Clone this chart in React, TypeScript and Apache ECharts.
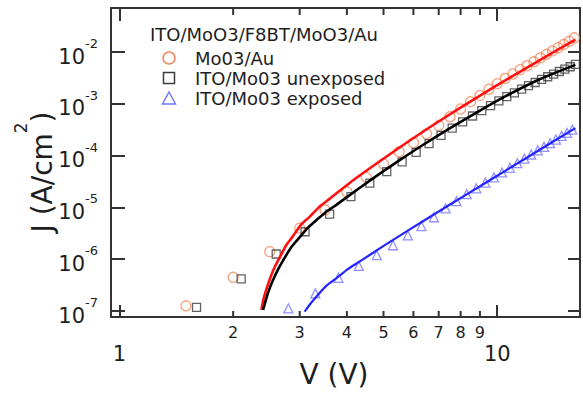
import { useEffect, useRef } from 'react';
import * as echarts from 'echarts';

// Measured points (V, J in A/cm^2)
const circleV = [1.5, 2.0, 2.5, 3.0, 3.5, 4.0, 4.5, 5.0, 5.5, 6.0, 6.5, 7.0, 7.5, 8.0, 8.5, 9.0, 9.5, 10.0, 10.5, 11.0, 11.5, 12.0, 12.5, 13.0, 13.5, 14.0, 14.5, 15.0, 15.5, 16.0];
const circleJ = [1.26e-7, 4.47e-7, 1.40e-6, 3.98e-6, 8.91e-6, 2.00e-5, 3.80e-5, 6.92e-5, 1.19e-4, 1.78e-4, 2.63e-4, 3.80e-4, 5.62e-4, 7.94e-4, 1.10e-3, 1.45e-3, 1.91e-3, 2.45e-3, 3.09e-3, 3.76e-3, 4.57e-3, 5.43e-3, 6.46e-3, 7.67e-3, 9.02e-3, 1.05e-2, 1.21e-2, 1.40e-2, 1.61e-2, 1.88e-2];

const squareV = [1.6, 2.1, 2.6, 3.1, 3.6, 4.1, 4.6, 5.1, 5.6, 6.1, 6.6, 7.1, 7.6, 8.1, 8.6, 9.1, 9.6, 10.1, 10.6, 11.1, 11.6, 12.1, 12.6, 13.1, 13.6, 14.1, 14.6, 15.1, 15.6, 16.1];
const squareJ = [1.17e-7, 4.17e-7, 1.26e-6, 3.39e-6, 7.41e-6, 1.62e-5, 2.95e-5, 4.90e-5, 7.59e-5, 1.15e-4, 1.70e-4, 2.45e-4, 3.39e-4, 4.47e-4, 5.82e-4, 7.41e-4, 9.23e-4, 1.14e-3, 1.38e-3, 1.63e-3, 1.92e-3, 2.24e-3, 2.58e-3, 2.96e-3, 3.33e-3, 3.75e-3, 4.20e-3, 4.68e-3, 5.19e-3, 5.75e-3];

const triangleV = [2.8, 3.3, 3.8, 4.3, 4.8, 5.3, 5.8, 6.3, 6.8, 7.3, 7.8, 8.3, 8.8, 9.3, 9.8, 10.3, 10.8, 11.3, 11.8, 12.3, 12.8, 13.3, 13.8, 14.3, 14.8, 15.3, 15.8];
const triangleJ = [1.12e-7, 2.19e-7, 4.37e-7, 7.41e-7, 1.20e-6, 1.86e-6, 2.88e-6, 4.37e-6, 6.46e-6, 9.55e-6, 1.32e-5, 1.80e-5, 2.34e-5, 3.02e-5, 3.80e-5, 4.73e-5, 5.82e-5, 7.16e-5, 8.71e-5, 1.05e-4, 1.26e-4, 1.48e-4, 1.74e-4, 2.04e-4, 2.40e-4, 2.75e-4, 3.16e-4];

// Fitted curves
const redV = [2.376, 2.40, 2.44, 2.50, 2.576, 2.656, 2.766, 2.88, 3.03, 3.187, 3.39, 3.60, 4.066, 4.59, 5.185, 5.75, 7.03, 8.96, 10.5, 13.0, 16.1];
const redJ = [1.05e-7, 1.57e-7, 2.41e-7, 4.11e-7, 7.06e-7, 1.08e-6, 1.88e-6, 2.79e-6, 4.70e-6, 6.56e-6, 1.04e-5, 1.46e-5, 2.97e-5, 5.64e-5, 1.05e-4, 1.77e-4, 4.66e-4, 1.41e-3, 2.83e-3, 7.01e-3, 1.74e-2];

const blackV = [2.40, 2.44, 2.48, 2.55, 2.63, 2.71, 2.852, 3.0, 3.155, 3.32, 3.529, 3.75, 4.32, 4.88, 5.58, 6.31, 7.5, 9.0, 10.5, 13.0, 16.1];
const blackJ = [1.05e-7, 1.61e-7, 2.37e-7, 3.95e-7, 6.38e-7, 9.40e-7, 1.72e-6, 2.66e-6, 4.06e-6, 5.66e-6, 8.26e-6, 1.12e-5, 2.37e-5, 4.44e-5, 8.63e-5, 1.55e-4, 3.38e-4, 7.40e-4, 1.39e-3, 3.01e-3, 5.64e-3];

const blueV = [3.093, 3.187, 3.32, 3.529, 3.75, 4.023, 4.32, 4.98, 5.62, 6.22, 7.5, 8.96, 10.5, 12.0, 14.0, 16.1];
const blueJ = [9.70e-8, 1.32e-7, 1.89e-7, 3.05e-7, 4.28e-7, 6.41e-7, 8.95e-7, 1.77e-6, 3.09e-6, 4.88e-6, 1.14e-5, 2.51e-5, 5.08e-5, 9.20e-5, 1.83e-4, 3.39e-4];

const xMinorTicks = [2, 3, 4, 5, 6, 7, 8, 9];
const seriesNames = ['Mo03/Au', 'ITO/Mo03 unexposed', 'ITO/Mo03 exposed'];
const legendTitle = 'ITO/MoO3/F8BT/MoO3/Au';

const X_MIN = 0.95;
const X_MAX = 16.56;
const Y_MIN = 7.66e-8;
const Y_MAX = 7.07e-2;

const FONT = "'DejaVu Sans', sans-serif";
const TEXT = '#1e1e1e';
const AXIS = '#333333';
const C_CIRCLE = '#f2875a';
const C_SQUARE = '#3c3c3c';
const C_TRI = '#7676ff';

const pairs = (xs: number[], ys: number[]) => xs.map((x, i) => [x, ys[i]]);
const isDecade = (v: number) => {
  const l = Math.log10(v);
  return Math.abs(l - Math.round(l)) < 1e-3;
};

export default function App() {
  const ref = useRef<HTMLDivElement>(null);
  useEffect(() => {
    const chart = echarts.init(ref.current!, null, { renderer: 'svg' });
    const axisLine = { show: true, lineStyle: { color: AXIS, width: 2 } };
    const fitLine = (name: string, xs: number[], ys: number[], color: string, width: number) => ({
      name, type: 'line', data: pairs(xs, ys), showSymbol: false, symbol: 'none',
      smooth: 0.2, z: 3, lineStyle: { color, width }, silent: true,
    });
    const option: any = {
      animation: false,
      backgroundColor: '#ffffff',
      grid: { left: 111, top: 8, width: 470, height: 309, containLabel: false },
      xAxis: [
        {
          type: 'log', logBase: 10, min: X_MIN, max: X_MAX, position: 'bottom',
          axisLine,
          axisTick: { show: true, inside: true, length: 12, lineStyle: { color: AXIS, width: 2 } },
          axisLabel: {
            formatter: (v: number) => (isDecade(v) ? String(Math.round(v)) : ''),
            margin: 26, fontSize: 21, fontFamily: FONT, color: TEXT,
          },
          splitLine: { show: false },
        },
        {
          type: 'log', logBase: 10, min: X_MIN, max: X_MAX, position: 'top',
          axisLine,
          axisTick: { show: true, inside: true, length: 13, lineStyle: { color: AXIS, width: 2 } },
          axisLabel: { show: false },
          splitLine: { show: false },
        },
      ],
      yAxis: [
        {
          type: 'log', logBase: 10, min: Y_MIN, max: Y_MAX, position: 'left',
          axisLine,
          axisTick: { show: true, inside: true, length: 14, lineStyle: { color: AXIS, width: 2 } },
          axisLabel: {
            formatter: (v: number) => (isDecade(v) ? `{b|10}{s|${Math.round(Math.log10(v))}}` : ''),
            margin: 13,
            rich: {
              b: { fontSize: 21, fontFamily: FONT, color: TEXT, lineHeight: 21, verticalAlign: 'bottom' },
              s: { fontSize: 13, fontFamily: FONT, color: TEXT, lineHeight: 30, verticalAlign: 'top' },
            },
          },
          splitLine: { show: false },
        },
        {
          type: 'log', logBase: 10, min: Y_MIN, max: Y_MAX, position: 'right',
          axisLine,
          axisTick: { show: true, inside: true, length: 12, lineStyle: { color: AXIS, width: 2 } },
          axisLabel: { show: false },
          splitLine: { show: false },
        },
      ],
      series: [
        {
          name: seriesNames[0], type: 'scatter', data: pairs(circleV, circleJ), symbol: 'circle', symbolSize: 10, z: 2,
          itemStyle: { color: 'rgba(0,0,0,0)', borderColor: C_CIRCLE, borderWidth: 1.3 }, silent: true,
        },
        {
          name: seriesNames[1], type: 'scatter', data: pairs(squareV, squareJ), symbol: 'rect', symbolSize: 8, z: 2,
          itemStyle: { color: 'rgba(0,0,0,0)', borderColor: C_SQUARE, borderWidth: 1.3 }, silent: true,
        },
        {
          name: seriesNames[2], type: 'scatter', data: pairs(triangleV, triangleJ), symbol: 'triangle', symbolSize: 9, z: 2,
          itemStyle: { color: 'rgba(0,0,0,0)', borderColor: C_TRI, borderWidth: 1.3 }, silent: true,
        },
        fitLine('fit red', redV, redJ, '#ff1010', 2.6),
        fitLine('fit black', blackV, blackJ, '#000000', 2.6),
        fitLine('fit blue', blueV, blueJ, '#2424ff', 2.2),
        {
          name: 'minor ticks', type: 'custom', silent: true, z: 5, clip: false,
          data: xMinorTicks.map((v) => [v, Y_MIN]),
          encode: { x: 0, y: 1 },
          renderItem: (_params: any, api: any) => {
            const v = api.value(0);
            const b = api.coord([v, Y_MIN]);
            const t = api.coord([v, Y_MAX]);
            return {
              type: 'group',
              children: [
                { type: 'line', shape: { x1: b[0], y1: b[1], x2: b[0], y2: b[1] - 6 }, style: { stroke: AXIS, lineWidth: 2 } },
                { type: 'line', shape: { x1: t[0], y1: t[1], x2: t[0], y2: t[1] + 7 }, style: { stroke: AXIS, lineWidth: 2 } },
                {
                  type: 'text', x: b[0], y: b[1] + 15.5,
                  style: { text: String(v), fontSize: 16, fontFamily: FONT, fill: TEXT, align: 'center', verticalAlign: 'middle' },
                },
              ],
            };
          },
        },
      ],
      graphic: [
        { type: 'text', x: 150, y: 34, style: { text: legendTitle, fontSize: 18, fontFamily: FONT, fill: TEXT, align: 'left', verticalAlign: 'middle' } },
        { type: 'circle', shape: { cx: 169, cy: 58, r: 6 }, style: { fill: 'none', stroke: C_CIRCLE, lineWidth: 1.5 } },
        { type: 'rect', shape: { x: 163.5, y: 72.5, width: 11, height: 11 }, style: { fill: 'none', stroke: C_SQUARE, lineWidth: 1.5 } },
        { type: 'polygon', shape: { points: [[169, 92], [175.5, 104], [162.5, 104]] }, style: { fill: 'none', stroke: C_TRI, lineWidth: 1.5 } },
        { type: 'text', x: 195, y: 58, style: { text: seriesNames[0], fontSize: 18, fontFamily: FONT, fill: TEXT, align: 'left', verticalAlign: 'middle' } },
        { type: 'text', x: 195, y: 78, style: { text: seriesNames[1], fontSize: 18, fontFamily: FONT, fill: TEXT, align: 'left', verticalAlign: 'middle' } },
        { type: 'text', x: 195, y: 98, style: { text: seriesNames[2], fontSize: 18, fontFamily: FONT, fill: TEXT, align: 'left', verticalAlign: 'middle' } },
        { type: 'text', x: 334, y: 374, style: { text: 'V (V)', fontSize: 28, fontFamily: FONT, fill: TEXT, align: 'center', verticalAlign: 'middle' } },
        {
          type: 'text', x: 34, y: 172, rotation: Math.PI / 2,
          style: {
            text: '{a|J (A/cm}{s|2}{a|)}', align: 'center', verticalAlign: 'middle',
            rich: {
              a: { fontSize: 28, fontFamily: FONT, fill: TEXT, lineHeight: 28, verticalAlign: 'bottom' },
              s: { fontSize: 17, fontFamily: FONT, fill: TEXT, lineHeight: 44, verticalAlign: 'top' },
            },
          },
        },
      ],
    };
    chart.setOption(option);
    return () => chart.dispose();
  }, []);
  return <div ref={ref} style={{ position: 'fixed', left: 0, top: 0, width: 583, height: 394 }} />;
}
